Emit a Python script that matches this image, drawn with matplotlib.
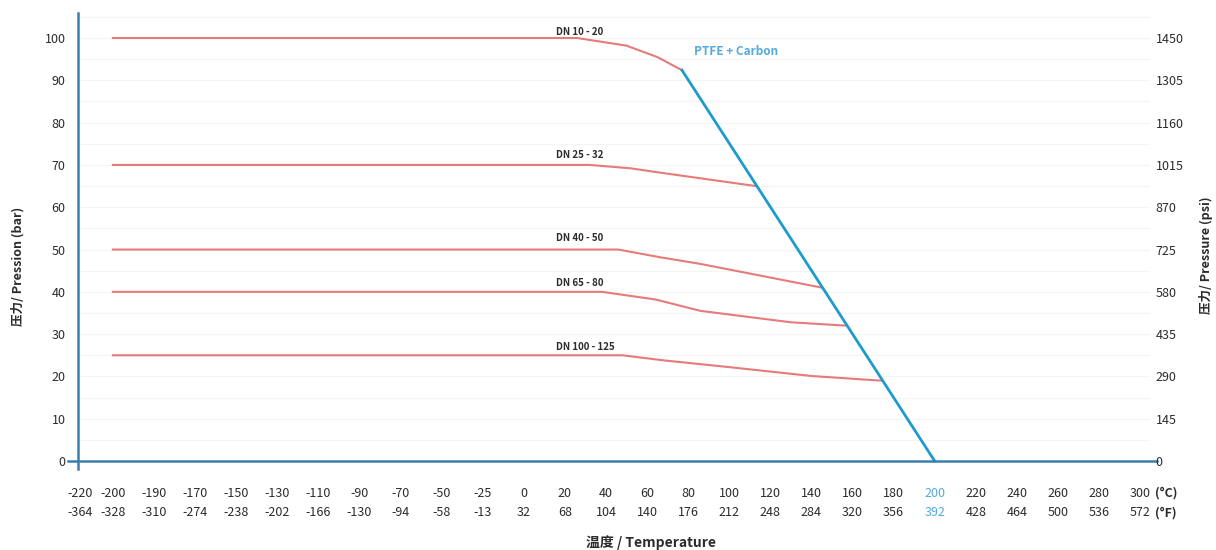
"""Pressure / temperature rating chart for PTFE + Carbon seats."""

import matplotlib

matplotlib.use("Agg")
import matplotlib.pyplot as plt
import numpy as np

plt.rcParams["font.family"] = ["Noto Sans CJK SC", "DejaVu Sans"]

# Temperature ticks (equally spaced on the chart, not linear in degrees)
temps_c = [-220, -200, -190, -170, -150, -130, -110, -90, -70, -50, -25, 0,
           20, 40, 60, 80, 100, 120, 140, 160, 180, 200, 220, 240, 260, 280, 300]
temps_f = [-364, -328, -310, -274, -238, -202, -166, -130, -94, -58, -13, 32,
           68, 104, 140, 176, 212, 248, 284, 320, 356, 392, 428, 464, 500, 536, 572]

bar_ticks = [0, 10, 20, 30, 40, 50, 60, 70, 80, 90, 100]
psi_ticks = [0, 145, 290, 435, 580, 725, 870, 1015, 1160, 1305, 1450]

# DN curves: temperature (°C) and pressure (bar)
dn_labels = ["DN 10 - 20", "DN 25 - 32", "DN 40 - 50", "DN 65 - 80", "DN 100 - 125"]
dn_temps = [
    [-200, 26, 50, 65, 77],
    [-200, 32, 52, 66, 113],
    [-200, 46, 66, 86, 145],
    [-200, 38, 64, 86, 130, 157],
    [-200, 48, 68, 100, 140, 174],
]
dn_press = [
    [100, 100, 98.2, 95.5, 92.4],
    [70, 70, 69.2, 68.2, 65],
    [50, 50, 48.2, 46.6, 41],
    [40, 40, 38.2, 35.5, 32.8, 32],
    [25, 25, 23.8, 22.2, 20.1, 19],
]

# PTFE + Carbon limit line
ptfe_temps = [77, 200]
ptfe_press = [92.4, 0]

# Colors
color_axis = "#3a7fab"
color_red = "#e77a7a"
color_blue = "#1d9bcc"
color_text = "#2b2b2b"
color_hi = "#55a9dc"

# Tick positions on the chart (-220 sits a bit closer to -200)
tick_pos = np.arange(len(temps_c), dtype=float)
tick_pos[0] = 0.2


def to_x(t):
    return np.interp(t, temps_c, tick_pos)


fig = plt.figure(figsize=(12.16, 5.5), dpi=100)
ax = fig.add_axes([0.0641, 0.1464, 0.8816, 0.8306])

ax.set_xlim(0.15, 26.24)
ax.set_ylim(-2, 106)

# faint horizontal grid
for yv in np.arange(5, 106, 5):
    ax.axhline(yv, color="#f4f4f4", lw=0.8, zorder=0)

# red DN curves
for temps, press in zip(dn_temps, dn_press):
    ax.plot(to_x(temps), press, color=color_red, lw=1.5, zorder=2)

# PTFE line
ax.plot(to_x(ptfe_temps), ptfe_press, color=color_blue, lw=2, zorder=3)

# DN labels
label_offsets = [1.4, 2.3, 2.7, 2.1, 2.0]
for lab, press, off in zip(dn_labels, dn_press, label_offsets):
    ax.text(to_x(15.7), press[0] + off, lab, fontsize=7, fontweight="bold",
            color=color_text, ha="left", va="center")

ax.text(to_x(83), 96.7, "PTFE + Carbon", fontsize=8.5, fontweight="bold",
        color=color_hi, ha="left", va="center")

# zero line acting as x axis
ax.axhline(0, xmin=-0.0093, xmax=1.0065, color=color_axis, lw=1.8,
           clip_on=False, zorder=4)

# spines
for side in ["top", "right", "bottom"]:
    ax.spines[side].set_visible(False)
ax.spines["left"].set_color(color_axis)
ax.spines["left"].set_linewidth(1.8)

# x ticks
ax.set_xticks(tick_pos)
ax.set_xticklabels([f"{c}\n{f}" for c, f in zip(temps_c, temps_f)],
                   fontsize=9, linespacing=1.65, color=color_text)
ax.tick_params(axis="x", length=0, pad=12.5)
for lbl, c in zip(ax.get_xticklabels(), temps_c):
    if c == 200:
        lbl.set_color(color_hi)

ax.annotate("(°C)\n(°F)", xy=(tick_pos[-1], 0), xycoords=("data", "axes fraction"),
            xytext=(11, -12.5), textcoords="offset points", ha="left", va="top",
            fontsize=9, fontweight="bold", linespacing=1.65, color=color_text)

# left y axis
ax.set_yticks(bar_ticks)
ax.tick_params(axis="y", length=0, pad=9, labelsize=9, labelcolor=color_text)

# right y axis (psi)
ax2 = ax.twinx()
ax2.set_ylim(-2 * 14.5, 106 * 14.5)
ax2.set_yticks(psi_ticks)
ax2.tick_params(axis="y", length=0, pad=4, labelsize=9, labelcolor=color_text)
for side in ["top", "right", "bottom", "left"]:
    ax2.spines[side].set_visible(False)

# axis titles
fig.text(0.015, 0.515, "压力/ Pression (bar)", rotation=90, fontsize=9,
         fontweight="bold", color=color_text, ha="center", va="center")
fig.text(0.992, 0.536, "压力/ Pressure (psi)", rotation=90, fontsize=9,
         fontweight="bold", color=color_text, ha="center", va="center")
fig.text(0.535, 0.013, "温度 / Temperature", fontsize=10, fontweight="bold",
         color=color_text, ha="center", va="center")

plt.savefig("out.png", dpi=100)
plt.close()
